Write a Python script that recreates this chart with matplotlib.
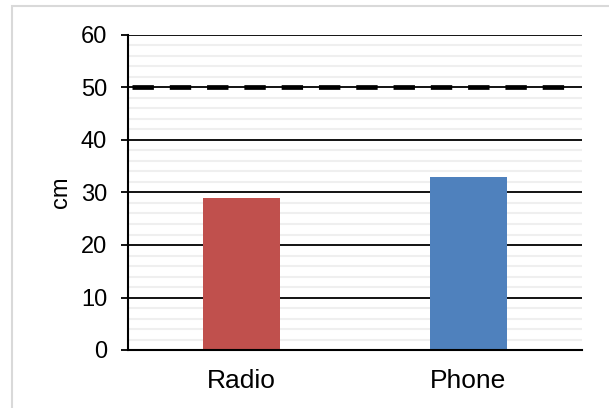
import matplotlib
matplotlib.use("Agg")
import matplotlib.pyplot as plt
from matplotlib.patches import Rectangle
from matplotlib.ticker import MultipleLocator

categories = ["Radio", "Phone"]
values = [29, 33]
bar_colors = ["#C0504D", "#4F81BD"]
target = 50
y_ticks = [0, 10, 20, 30, 40, 50, 60]

plt.rcParams["font.family"] = ["Liberation Sans", "DejaVu Sans"]

fig = plt.figure(figsize=(6.09, 4.08), dpi=100)
ax = fig.add_axes([128 / 609, 1 - 350 / 408, 454 / 609, 315 / 408])

x = range(len(categories))
ax.bar(x, values, width=0.34, color=bar_colors, zorder=3)

ax.set_xlim(-0.5, len(categories) - 0.5)
ax.set_ylim(0, 60)
ax.set_yticks(y_ticks)
ax.yaxis.set_minor_locator(MultipleLocator(2))
ax.set_xticks(list(x))
ax.set_xticklabels(categories, fontsize=19)

ax.grid(axis="y", which="major", color="black", linewidth=1.3, zorder=1)
ax.grid(axis="y", which="minor", color="#efefef", linewidth=1.5, zorder=0)
ax.set_axisbelow(True)

ax.tick_params(axis="y", which="major", direction="out", length=5, width=1.3,
               labelsize=17, pad=10)
ax.tick_params(axis="y", which="minor", length=0)
ax.tick_params(axis="x", length=0, pad=14)

for side in ("top", "right"):
    ax.spines[side].set_visible(False)
ax.spines["left"].set_linewidth(1.5)
ax.spines["bottom"].set_linewidth(1.5)
ax.spines["left"].set_zorder(4)
ax.spines["bottom"].set_zorder(4)

# target line drawn as thick dashes
lw_target = 3.4
ax.axhline(target, xmin=0.009, xmax=0.9604, color="black",
           linewidth=lw_target, zorder=2.5,
           linestyle=(0, (15.4 / lw_target, 11.45 / lw_target)))

ax.set_ylabel("cm", fontsize=17, labelpad=6)

# light frame around the chart area
fig.add_artist(Rectangle((11.5 / 609, -0.05), 1.1, 1 - 6.5 / 408 + 0.05,
                         transform=fig.transFigure, fill=False,
                         edgecolor="#d9d9d9", linewidth=1.5))

fig.savefig("out.png", dpi=100)
